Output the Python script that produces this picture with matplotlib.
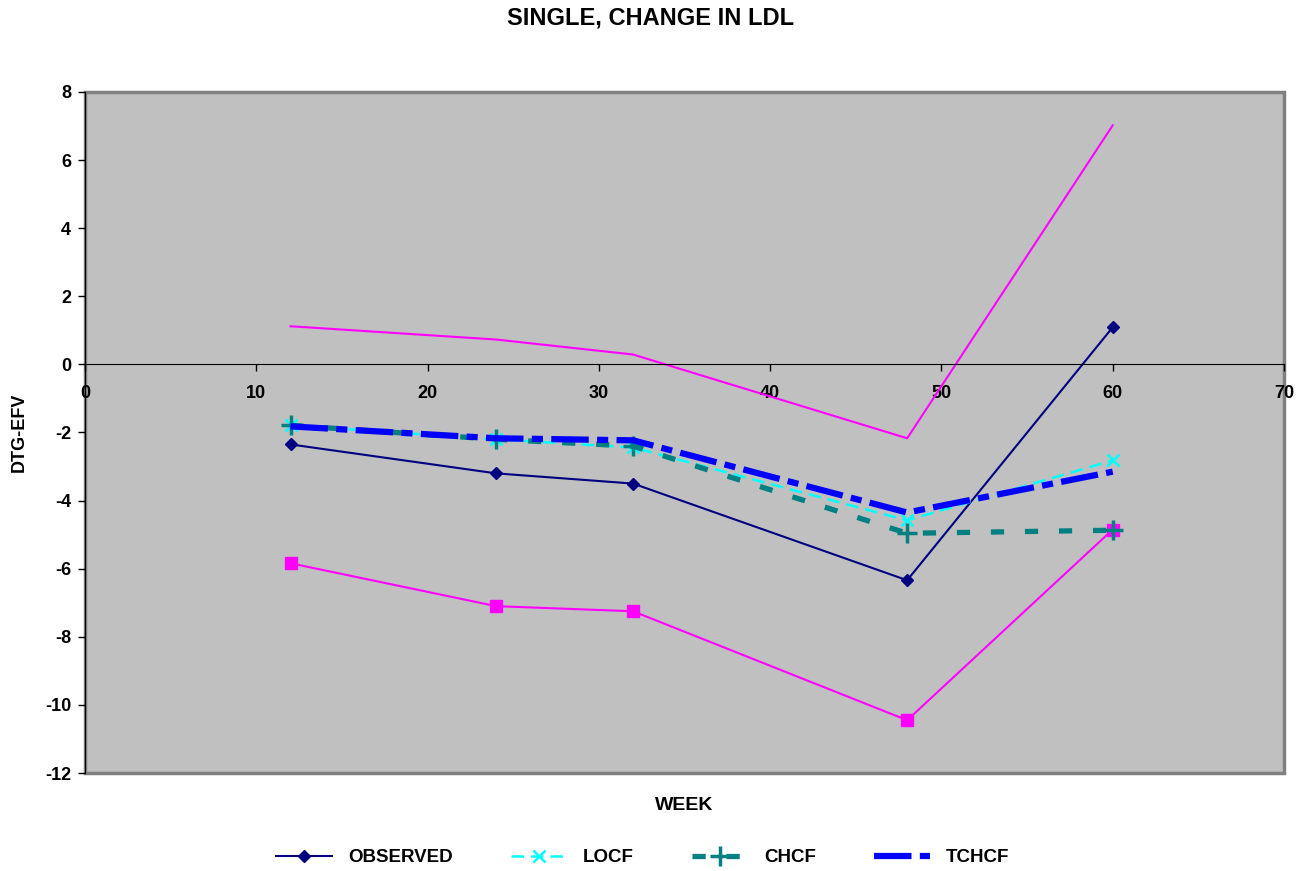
import matplotlib

matplotlib.use("Agg")

import matplotlib.pyplot as plt
from matplotlib.patches import Rectangle

plt.rcParams["font.family"] = ["Liberation Sans", "DejaVu Sans"]
plt.rcParams["font.weight"] = "bold"
plt.rcParams["lines.scale_dashes"] = False
plt.rcParams["axes.unicode_minus"] = False

# Weeks and mean change in LDL for each imputation method
weeks = [12, 24, 32, 48, 60]
observed = [-2.35, -3.2, -3.5, -6.34, 1.09]
locf = [-1.79, -2.2, -2.44, -4.58, -2.82]
chcf = [-1.79, -2.2, -2.4, -4.96, -4.87]
tchcf = [-1.82, -2.17, -2.23, -4.35, -3.15]
# Confidence limits for the observed series
upper = [1.12, 0.73, 0.29, -2.17, 7.02]
lower = [-5.84, -7.1, -7.25, -10.45, -4.85]

fig = plt.figure(figsize=(13.11, 8.71), dpi=100)
ax = fig.add_axes([0.0648, 0.1125, 0.9146, 0.7819])
ax.set_facecolor("#C0C0C0")

ax.plot(weeks, upper, color="#FF00FF", lw=1.5)
ax.plot(weeks, lower, color="#FF00FF", lw=1.5, marker="s", markersize=9)
ax.plot(weeks, observed, color="#000080", lw=1.5, marker="D", markersize=6,
        label="OBSERVED")
ax.plot(weeks, locf, color="#00FFFF", lw=1.8, dashes=(9, 5), marker="x",
        markersize=9, markeredgewidth=1.8, label="LOCF")
ax.plot(weeks, chcf, color="#008080", lw=3.8, dashes=(9.5, 15), marker="+",
        markersize=14, markeredgewidth=2.5, label="CHCF")
ax.plot(weeks, tchcf, color="#0000FF", lw=4.5, dashes=(27, 6, 8, 6),
        label="TCHCF")

ax.set_xlim(0, 70)
ax.set_ylim(-12, 8)
ax.set_xticks(range(0, 71, 10))
ax.set_yticks(range(-12, 9, 2))

# x axis crosses at zero, plot area framed in gray
ax.spines["bottom"].set_position(("data", 0))
ax.spines["top"].set_visible(False)
ax.spines["right"].set_visible(False)
ax.spines["left"].set_color("black")
ax.add_patch(Rectangle((0, 0), 1, 1, transform=ax.transAxes, fill=False,
                       edgecolor="#808080", lw=2.5, zorder=0.5, clip_on=False))
ax.tick_params(direction="out", length=5, width=1, labelsize=13, colors="black")
ax.tick_params(axis="x", pad=10)
ax.tick_params(axis="y", pad=5)
for lbl in ax.get_xticklabels() + ax.get_yticklabels():
    lbl.set_fontweight("bold")

# title is centred on the whole figure, not on the axes
fig.text(0.496, 0.979, "SINGLE, CHANGE IN LDL", fontsize=17, fontweight="bold",
         ha="center", va="center")
ax.set_xlabel("WEEK", fontsize=14, fontweight="bold")
ax.xaxis.set_label_coords(0.5, -0.035)
ax.set_ylabel("DTG-EFV", fontsize=13, fontweight="bold")
ax.yaxis.set_label_coords(-0.0475, 0.5)

leg = ax.legend(loc="upper center", bbox_to_anchor=(0.465, -0.087), ncol=4,
                frameon=False, fontsize=13.5, handlelength=3.0,
                columnspacing=3.1, handletextpad=0.85)

fig.savefig("out.png", dpi=100)
plt.close(fig)
